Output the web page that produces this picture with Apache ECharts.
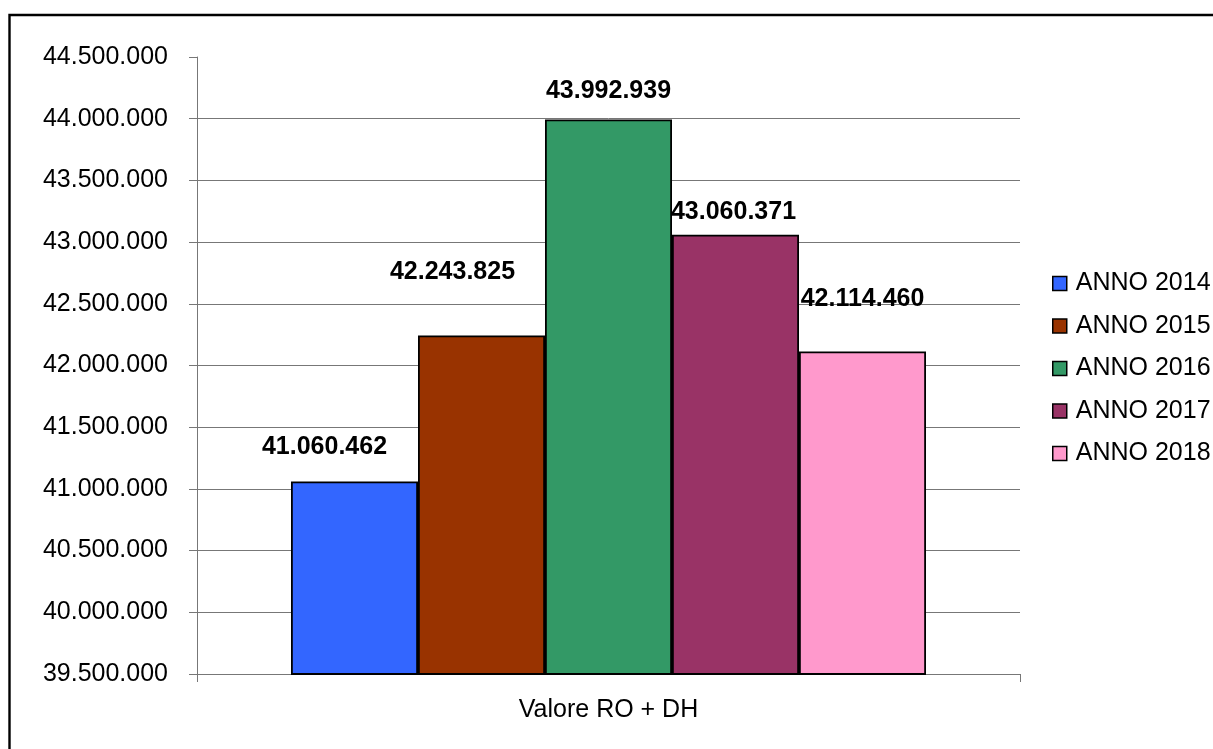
<!DOCTYPE html>
<html>
<head>
<meta charset="utf-8">
<script src="https://cdn.jsdelivr.net/npm/echarts@6/dist/echarts.min.js"></script>
<style>
html,body{margin:0;padding:0;background:#fff;}
#chart{width:1213px;height:749px;}
</style>
</head>
<body>
<div id="chart"></div>
<script>
const categories = ['Valore RO + DH'];
const seriesNames = ['ANNO 2014', 'ANNO 2015', 'ANNO 2016', 'ANNO 2017', 'ANNO 2018'];
const values2014 = [41060462];
const values2015 = [42243825];
const values2016 = [43992939];
const values2017 = [43060371];
const values2018 = [42114460];
const yTicks = { min: 39500000, max: 44500000, interval: 500000 };

const seriesValues = [values2014, values2015, values2016, values2017, values2018];
const seriesStyles = [
  { color: '#3366FF', labelDist: 22, labelDx: -30 },
  { color: '#993300', labelDist: 51, labelDx: -29 },
  { color: '#339966', labelDist: 16, labelDx: 0 },
  { color: '#993366', labelDist: 10, labelDx: -2 },
  { color: '#FF99CC', labelDist: 40, labelDx: 0 }
];

function fmt(n) {
  return String(Math.round(n)).replace(/\B(?=(\d{3})+(?!\d))/g, '.');
}

const FONT = "'Liberation Sans', Arial, sans-serif";
const chart = echarts.init(document.getElementById('chart'), null, { renderer: 'canvas' });

chart.setOption({
  backgroundColor: '#ffffff',
  animation: false,
  textStyle: { fontFamily: FONT },
  graphic: [{
    type: 'rect',
    shape: { x: 9.5, y: 15, width: 1400, height: 900 },
    style: { fill: 'none', stroke: '#000', lineWidth: 2.4 },
    silent: true,
    z: 100
  }],
  grid: { left: 197, right: 193, top: 57, bottom: 75, containLabel: false },
  legend: {
    orient: 'vertical',
    left: 1052,
    top: 271,
    padding: 0,
    itemGap: 17.5,
    itemWidth: 14,
    itemHeight: 14,
    icon: 'rect',
    data: seriesNames,
    itemStyle: { borderColor: '#000', borderWidth: 1.5 },
    textStyle: { fontFamily: FONT, fontSize: 25, color: '#000', lineHeight: 24, padding: [0, 0, 0, 4] }
  },
  xAxis: {
    type: 'category',
    data: categories,
    boundaryGap: true,
    axisLine: { show: true, lineStyle: { color: '#777', width: 1 } },
    axisTick: { show: true, inside: false, length: 8, lineStyle: { color: '#777', width: 1 } },
    axisLabel: { fontFamily: FONT, fontSize: 25, color: '#000', margin: 24 },
    splitLine: { show: false }
  },
  yAxis: {
    type: 'value',
    min: yTicks.min,
    max: yTicks.max,
    interval: yTicks.interval,
    axisLine: { show: true, lineStyle: { color: '#777', width: 1 } },
    axisTick: { show: true, inside: false, length: 8, lineStyle: { color: '#777', width: 1 } },
    axisLabel: { fontFamily: FONT, fontSize: 25, color: '#000', margin: 29, formatter: v => fmt(v) },
    splitLine: { show: true, showMinLine: false, showMaxLine: false, lineStyle: { color: '#777', width: 1 } }
  },
  series: seriesNames.map((name, i) => ({
    name: name,
    type: 'bar',
    data: seriesValues[i],
    barWidth: 127,
    barGap: '0%',
    itemStyle: { color: seriesStyles[i].color, borderColor: '#000', borderWidth: 1.8 },
    label: {
      show: true,
      position: 'top',
      distance: seriesStyles[i].labelDist,
      offset: [seriesStyles[i].labelDx, 0],
      fontFamily: FONT,
      fontSize: 25,
      fontWeight: 'bold',
      color: '#000',
      formatter: p => fmt(p.value)
    }
  }))
});
</script>
</body>
</html>
